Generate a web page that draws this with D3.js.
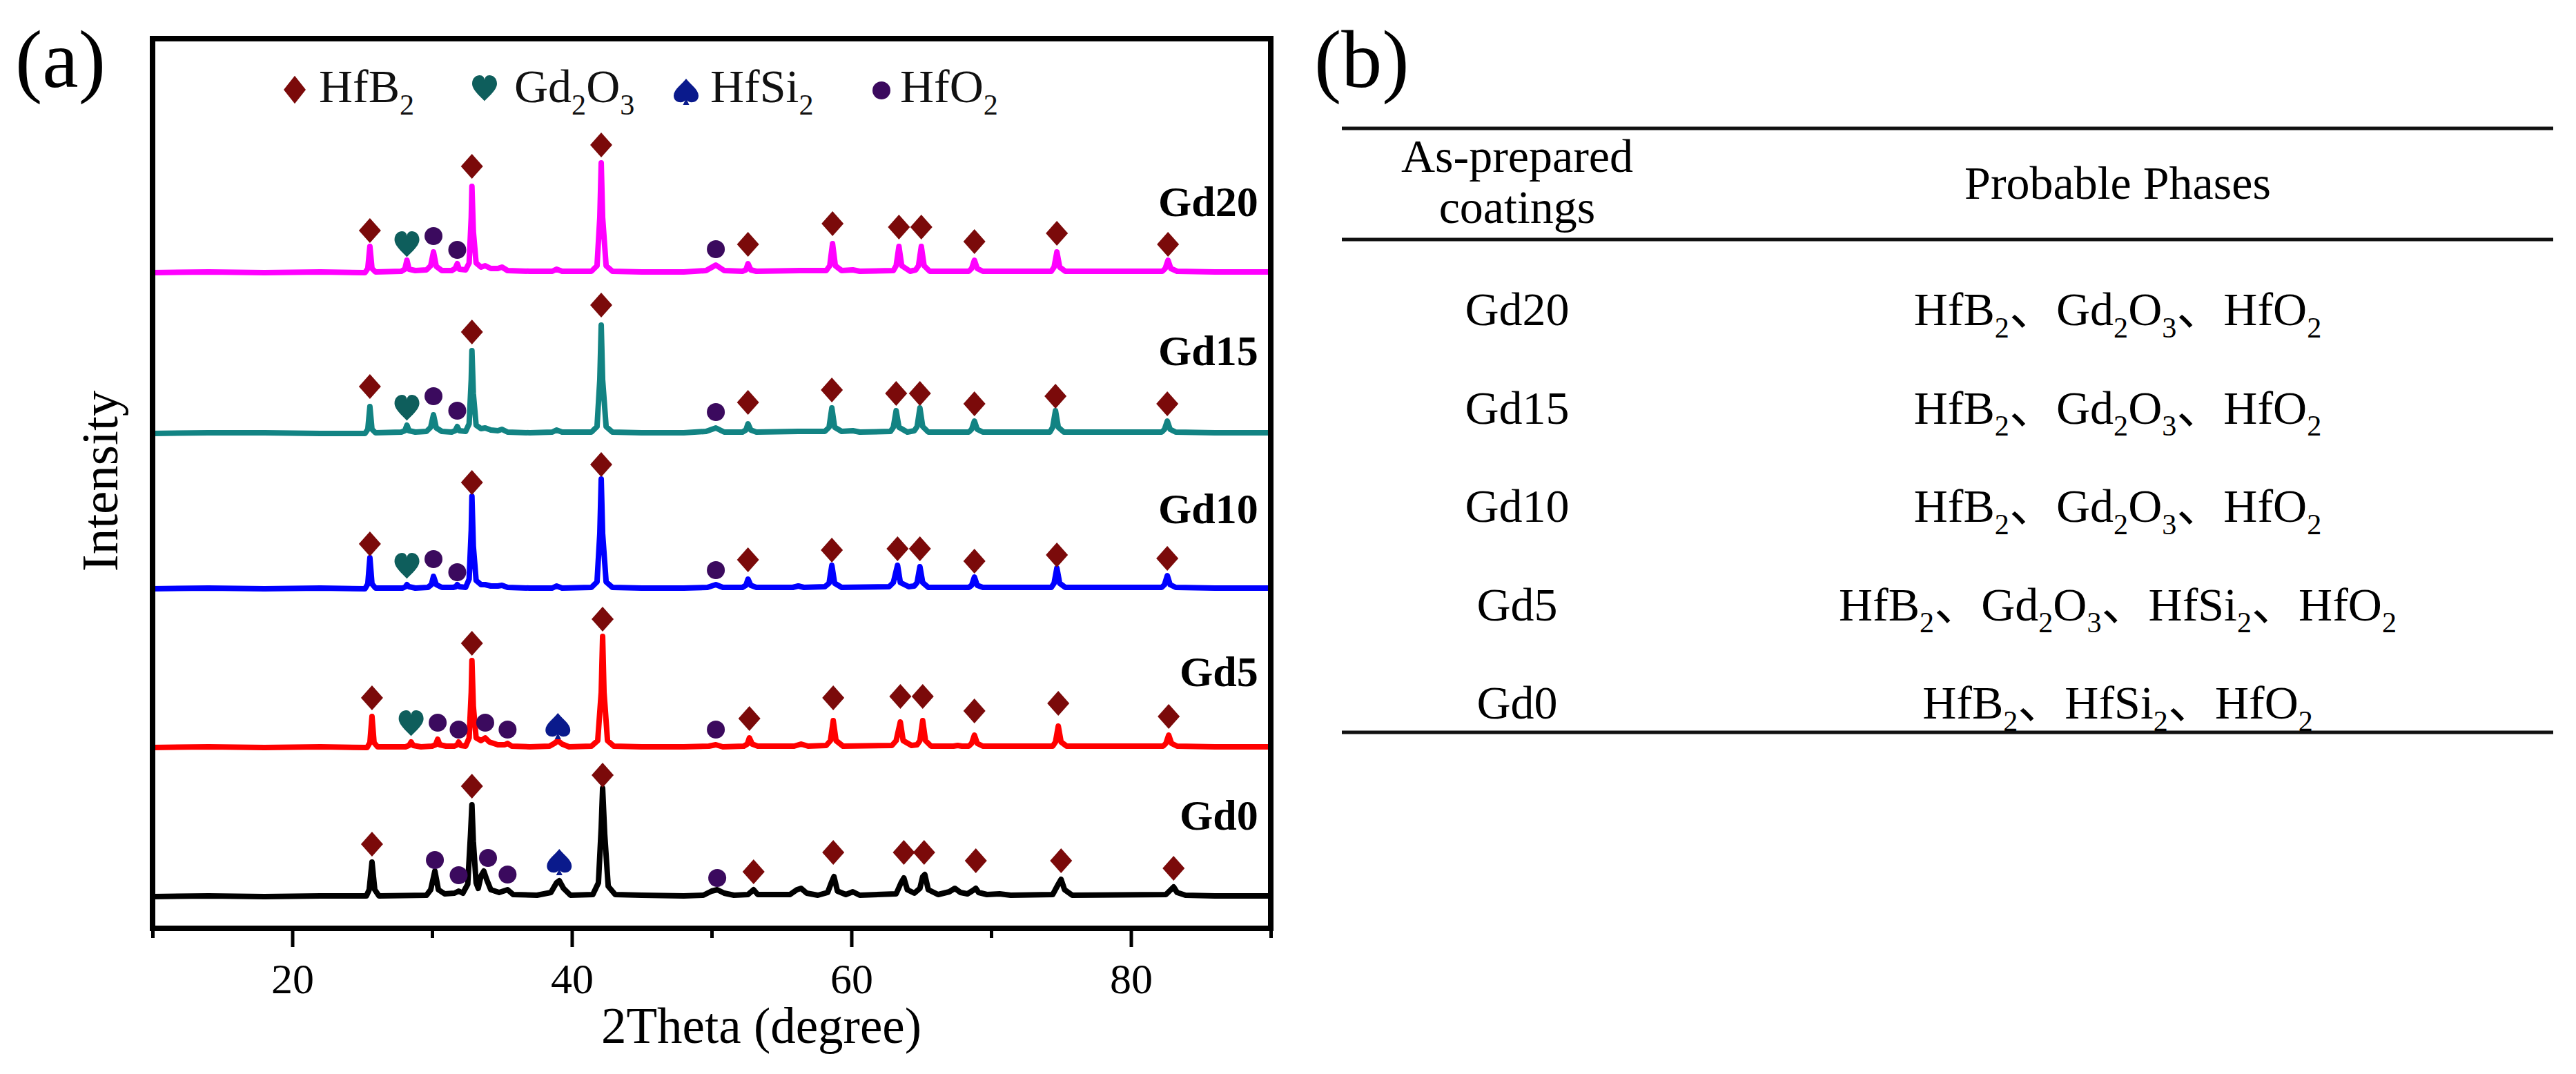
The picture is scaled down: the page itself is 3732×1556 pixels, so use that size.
<!DOCTYPE html>
<html>
<head>
<meta charset="utf-8">
<script src="https://cdn.jsdelivr.net/npm/d3@7"></script>
<style>
html,body{margin:0;padding:0;background:#fff;}
svg{display:block;}
</style>
</head>
<body>
<svg id="chart" width="3732" height="1556"></svg>
<script>
// ---------------- DATA ----------------
const categories = ['Gd0', 'Gd5', 'Gd10', 'Gd15', 'Gd20'];
// vertical stacking offsets of each pattern (intensity units)
const offsets = [46, 262, 492, 717, 950];
// label lift above each pattern's baseline (intensity units)
const labelLift = [97, 89, 95, 99, 82];

const xTicksMajor = [20, 40, 60, 80];
const xTicksMinor = [10, 30, 50, 70, 90];

const phases = ['HfB2', 'Gd2O3', 'HfSi2', 'HfO2'];

// XRD patterns: [2theta, relative intensity]
const gd0 = [[10,0],[14,1],[18,0],[22,1],[25.3,1],[25.5,10],[25.7,50],[25.9,10],[26.2,1],[29.6,2],[29.9,10],[30.2,37],[30.45,10],[30.9,4],[31.6,5],[31.9,8],[32.2,5],[32.55,18],[32.75,90],[32.85,133],[32.95,80],[33.15,20],[33.3,12],[33.5,30],[33.7,37],[33.9,25],[34.2,10],[34.8,6],[35.4,10],[35.8,3],[37.5,2],[38.5,6],[38.9,20],[39.1,23],[39.4,12],[39.9,2],[41.5,3],[41.9,20],[42.1,100],[42.2,157],[42.35,90],[42.6,15],[43.1,3],[45,2],[48,1],[49.4,2],[50.0,8],[50.4,10],[50.9,5],[51.6,2],[52.6,3],[53.0,10],[53.3,3],[55.6,3],[56.1,10],[56.4,12],[56.8,5],[57.6,2],[58.3,6],[58.6,22],[58.75,29],[59.0,8],[59.6,3],[60.1,7],[60.6,2],[63.2,4],[63.55,20],[63.75,27],[64.0,10],[64.5,5],[64.9,12],[65.1,29],[65.25,32],[65.5,10],[66.2,3],[67.0,7],[67.4,12],[67.8,6],[68.3,4],[68.7,9],[68.9,12],[69.1,6],[69.7,3],[70.6,4],[71.4,2],[74.4,3],[74.8,18],[75.0,25],[75.25,10],[75.8,2],[82.5,3],[82.85,10],[83.05,14],[83.3,6],[83.9,2],[86,1],[90,1]];
const gd5 = [[10,0],[14,1],[18,0],[22,1],[25.35,0],[25.55,7],[25.7,45],[25.85,7],[26.1,1],[28.1,1],[28.35,3],[28.5,8],[28.65,3],[29.2,1],[30.0,2],[30.25,4],[30.4,12],[30.55,4],[31.0,2],[31.6,2],[31.8,4],[31.9,8],[32.05,3],[32.4,2],[32.65,14],[32.8,80],[32.85,126],[32.95,60],[33.15,14],[33.5,10],[33.8,14],[34.1,8],[34.7,4],[35.2,4],[35.4,6],[35.7,2],[37,1],[38.4,2],[38.75,6],[39.0,10],[39.3,5],[39.8,1],[41.4,2],[41.85,10],[42.1,80],[42.2,161],[42.3,80],[42.55,10],[43.0,2],[45,1],[48,1],[49.8,2],[50.3,4],[50.8,1],[52.3,2],[52.55,5],[52.7,14],[52.9,5],[53.3,2],[55.9,2],[56.4,5],[56.9,2],[58.2,3],[58.5,10],[58.7,39],[58.9,10],[59.4,2],[62.9,3],[63.2,10],[63.5,37],[63.7,10],[64.3,3],[64.7,4],[64.9,10],[65.1,39],[65.3,10],[65.7,2],[67.3,2],[67.6,3],[67.9,2],[68.4,2],[68.6,6],[68.8,18],[69.0,6],[69.4,2],[74.4,2],[74.6,8],[74.8,31],[75.0,8],[75.4,2],[82.3,2],[82.5,6],[82.7,18],[82.9,6],[83.3,2],[86,1],[90,1]];
const gd10 = [[10,0],[14,1],[18,0],[22,1],[25.2,0],[25.4,7],[25.55,45],[25.7,7],[25.95,1],[27.9,1],[28.1,3],[28.2,6],[28.35,3],[28.8,1],[29.7,2],[29.95,6],[30.1,18],[30.3,6],[30.7,2],[31.5,2],[31.7,3],[31.8,6],[31.95,3],[32.4,2],[32.65,14],[32.8,85],[32.85,134],[32.95,62],[33.15,12],[33.5,6],[33.8,6],[34.2,4],[34.7,4],[35.0,5],[35.4,2],[37,1],[38.6,1],[38.9,4],[39.3,1],[41.4,2],[41.8,10],[42.0,80],[42.1,159],[42.2,80],[42.45,10],[42.9,2],[45,1],[48,1],[49.7,2],[50.3,6],[50.8,2],[52.2,2],[52.45,5],[52.6,14],[52.8,5],[53.2,2],[55.8,2],[56.2,4],[56.6,2],[58.1,3],[58.4,8],[58.6,34],[58.8,8],[59.3,2],[62.7,3],[63.0,9],[63.3,34],[63.5,9],[64.1,3],[64.5,4],[64.7,9],[64.9,32],[65.1,9],[65.5,2],[68.4,2],[68.6,5],[68.8,17],[69.0,5],[69.4,2],[74.3,2],[74.5,8],[74.7,30],[74.9,8],[75.3,2],[82.2,2],[82.4,6],[82.6,19],[82.8,6],[83.2,2],[86,1],[90,1]];
const gd15 = [[10,0],[14,1],[18,1],[22,0],[25.2,0],[25.4,6],[25.55,39],[25.7,6],[25.95,1],[27.8,2],[28.05,4],[28.2,12],[28.35,4],[28.8,2],[29.6,3],[29.9,9],[30.1,27],[30.3,8],[30.7,3],[31.4,2],[31.65,4],[31.8,10],[31.95,4],[32.4,3],[32.65,14],[32.8,78],[32.85,120],[32.95,58],[33.15,12],[33.5,7],[33.8,8],[34.2,5],[34.7,4],[35.0,6],[35.4,2],[37,1],[38.6,2],[38.9,5],[39.3,2],[41.4,2],[41.8,10],[42.0,78],[42.1,157],[42.2,78],[42.45,10],[42.9,2],[45,1],[48,1],[49.6,3],[50.3,8],[50.9,2],[52.2,2],[52.45,5],[52.6,14],[52.8,5],[53.2,2],[56.2,3],[58.1,3],[58.4,9],[58.6,37],[58.8,9],[59.3,3],[60.1,4],[60.6,2],[62.8,3],[63.0,9],[63.2,33],[63.4,9],[64.0,2],[64.5,4],[64.7,10],[64.9,37],[65.1,10],[65.5,2],[68.4,2],[68.6,6],[68.8,18],[69.0,6],[69.4,2],[74.2,2],[74.4,9],[74.6,33],[74.8,9],[75.2,2],[82.2,2],[82.4,6],[82.6,18],[82.8,6],[83.2,2],[86,1],[90,1]];
const gd20 = [[10,0],[14,1],[18,0],[22,1],[25.2,0],[25.4,6],[25.55,38],[25.7,6],[25.95,1],[27.8,2],[28.05,5],[28.2,18],[28.35,5],[28.8,3],[29.6,4],[29.9,10],[30.1,30],[30.3,9],[30.7,3],[31.4,3],[31.65,6],[31.8,13],[31.95,5],[32.4,4],[32.65,14],[32.8,80],[32.85,125],[32.95,60],[33.15,14],[33.5,8],[33.8,10],[34.2,6],[34.7,6],[35.0,8],[35.4,3],[37,2],[38.6,2],[38.9,5],[39.3,2],[41.4,2],[41.8,10],[42.0,80],[42.1,159],[42.2,80],[42.45,10],[42.9,2],[45,1],[48,1],[49.6,3],[50.3,11],[50.9,3],[52.2,2],[52.45,4],[52.6,13],[52.8,4],[53.2,2],[56.3,3],[58.2,3],[58.45,10],[58.65,42],[58.85,10],[59.3,3],[60.1,4],[60.6,2],[63.0,3],[63.2,10],[63.4,38],[63.6,10],[64.2,2],[64.6,4],[64.8,10],[65.0,38],[65.2,10],[65.6,2],[68.4,2],[68.6,6],[68.8,18],[69.0,6],[69.4,2],[74.3,2],[74.5,8],[74.7,30],[74.9,8],[75.3,2],[82.25,2],[82.45,6],[82.65,18],[82.85,6],[83.3,2],[86,1],[90,1]];
const patterns = [gd0, gd5, gd10, gd15, gd20];

// phase markers: [2theta, phase, marker height above baseline]
const mk0 = [[25.7,'HfB2',76],[30.2,'HfO2',53],[31.9,'HfO2',31],[32.85,'HfB2',160],[34.0,'HfO2',56],[35.4,'HfO2',32],[39.1,'HfSi2',50],[42.2,'HfB2',176],[50.4,'HfO2',27],[53.0,'HfB2',36],[58.7,'HfB2',64],[63.75,'HfB2',64],[65.2,'HfB2',64],[68.9,'HfB2',52],[75.0,'HfB2',52],[83.05,'HfB2',41]];
const mk5 = [[25.7,'HfB2',72],[28.5,'Gd2O3',35],[30.4,'HfO2',36],[31.9,'HfO2',26],[32.85,'HfB2',151],[33.8,'HfO2',36],[35.4,'HfO2',26],[39.0,'HfSi2',31],[42.2,'HfB2',186],[50.3,'HfO2',26],[52.7,'HfB2',42],[58.7,'HfB2',72],[63.5,'HfB2',74],[65.1,'HfB2',74],[68.8,'HfB2',53],[74.8,'HfB2',64],[82.7,'HfB2',45]];
const mk10 = [[25.55,'HfB2',65],[28.2,'Gd2O3',33],[30.1,'HfO2',43],[31.8,'HfO2',24],[32.85,'HfB2',154],[42.1,'HfB2',180],[50.3,'HfO2',27],[52.6,'HfB2',42],[58.6,'HfB2',56],[63.3,'HfB2',58],[64.9,'HfB2',58],[68.8,'HfB2',40],[74.7,'HfB2',49],[82.6,'HfB2',44]];
const mk15 = [[25.55,'HfB2',68],[28.2,'Gd2O3',37],[30.1,'HfO2',54],[31.8,'HfO2',33],[32.85,'HfB2',147],[42.1,'HfB2',186],[50.3,'HfO2',31],[52.6,'HfB2',45],[58.6,'HfB2',63],[63.2,'HfB2',58],[64.9,'HfB2',58],[68.8,'HfB2',43],[74.6,'HfB2',54],[82.6,'HfB2',43]];
const mk20 = [[25.55,'HfB2',61],[28.2,'Gd2O3',41],[30.1,'HfO2',53],[31.8,'HfO2',33],[32.85,'HfB2',154],[42.1,'HfB2',185],[50.3,'HfO2',34],[52.6,'HfB2',41],[58.65,'HfB2',71],[63.4,'HfB2',66],[65.0,'HfB2',66],[68.8,'HfB2',45],[74.7,'HfB2',57],[82.65,'HfB2',41]];
const markers = [mk0, mk5, mk10, mk15, mk20];

// table (b)
const tableHeader = ['As-prepared', 'coatings', 'Probable Phases'];
const tableSamples = ['Gd20', 'Gd15', 'Gd10', 'Gd5', 'Gd0'];
const tablePhases = [
  ['HfB2', 'Gd2O3', 'HfO2'],
  ['HfB2', 'Gd2O3', 'HfO2'],
  ['HfB2', 'Gd2O3', 'HfO2'],
  ['HfB2', 'Gd2O3', 'HfSi2', 'HfO2'],
  ['HfB2', 'HfSi2', 'HfO2']
];

// ---------------- STYLE ----------------
const lineColors = ['#000000', '#FF0000', '#0000FF', '#128383', '#FF00FF'];
const markerColors = {HfB2: '#7B0A0A', Gd2O3: '#0E5E5C', HfSi2: '#0A1A8C', HfO2: '#3B0A5E'};
const SERIF = '"Liberation Serif","Times New Roman",serif';
const SEP_FONT = '"Noto Sans CJK SC","Liberation Serif",serif';

const svg = d3.select('#chart');
svg.append('rect').attr('width', 3732).attr('height', 1556).attr('fill', '#fff');

const x = d3.scaleLinear().domain([10, 90]).range([221, 1841]);
const y = d3.scaleLinear().domain([0, 1289]).range([1345, 56]);

// marker shapes
function markerPath(type) {
  if (type === 'HfB2') return 'M0,-18 L16,0 L0,18 L-16,0 Z';
  if (type === 'HfO2') return d3.symbol(d3.symbolCircle, Math.PI * 13 * 13)();
  if (type === 'Gd2O3') {
    const sx = 18, sy = 19.5;
    return `M0,${0.95*sy} C${-0.2*sx},${0.7*sy} ${-1*sx},${0.15*sy} ${-1*sx},${-0.35*sy} C${-1*sx},${-0.78*sy} ${-0.65*sx},${-0.97*sy} ${-0.4*sx},${-0.97*sy} C${-0.15*sx},${-0.97*sy} 0,${-0.8*sy} 0,${-0.6*sy} C0,${-0.8*sy} ${0.15*sx},${-0.97*sy} ${0.4*sx},${-0.97*sy} C${0.65*sx},${-0.97*sy} ${1*sx},${-0.78*sy} ${1*sx},${-0.35*sy} C${1*sx},${0.15*sy} ${0.2*sx},${0.7*sy} 0,${0.95*sy} Z`;
  }
  const sx = 18, sy = 19;
  return `M0,${-1*sy} C${-0.3*sx},${-0.6*sy} ${-1*sx},${-0.2*sy} ${-1*sx},${0.3*sy} C${-1*sx},${0.65*sy} ${-0.7*sx},${0.8*sy} ${-0.45*sx},${0.8*sy} C${-0.25*sx},${0.8*sy} ${-0.1*sx},${0.7*sy} ${-0.05*sx},${0.6*sy} L${-0.25*sx},${1*sy} L${0.25*sx},${1*sy} L${0.05*sx},${0.6*sy} C${0.1*sx},${0.7*sy} ${0.25*sx},${0.8*sy} ${0.45*sx},${0.8*sy} C${0.7*sx},${0.8*sy} ${1*sx},${0.65*sy} ${1*sx},${0.3*sy} C${1*sx},${-0.2*sy} ${0.3*sx},${-0.6*sy} 0,${-1*sy} Z`;
}

// formula text with subscripts
function writeFormulas(textSel, list, fs) {
  const subSize = fs * 0.62, shift = fs * 0.26;
  let lowered = false;
  list.forEach((f, k) => {
    if (k > 0) {
      const t = textSel.append('tspan').attr('font-family', SEP_FONT).text('、');
      if (lowered) { t.attr('dy', -shift); lowered = false; }
    }
    (f.match(/[A-Za-z]+|\d+/g) || []).forEach(p => {
      const t = textSel.append('tspan').text(p);
      if (/\d/.test(p)) {
        t.attr('font-size', subSize);
        if (!lowered) { t.attr('dy', shift); lowered = true; }
      } else if (lowered) {
        t.attr('dy', -shift); lowered = false;
      }
    });
  });
}

// ---------------- PANEL (a) ----------------
const gA = svg.append('g');

// patterns
const line = d3.line().x(d => x(d[0]));
patterns.forEach((pts, i) => {
  gA.append('path')
    .attr('d', line.y(d => y(d[1] + offsets[i]))(pts))
    .attr('fill', 'none')
    .attr('stroke', lineColors[i])
    .attr('stroke-width', 8)
    .attr('stroke-linejoin', 'round');
});

// phase markers
markers.forEach((list, i) => {
  gA.selectAll(null).data(list).join('path')
    .attr('d', d => markerPath(d[1]))
    .attr('transform', d => `translate(${x(d[0])},${y(d[2] + offsets[i])})`)
    .attr('fill', d => markerColors[d[1]]);
});

// sample labels
categories.forEach((c, i) => {
  gA.append('text')
    .attr('x', x(89) + 2)
    .attr('y', y(offsets[i] + labelLift[i]))
    .attr('text-anchor', 'end')
    .attr('font-family', SERIF).attr('font-weight', 'bold')
    .attr('font-size', 62).attr('fill', '#000')
    .text(c);
});

// frame
gA.append('rect')
  .attr('x', x(10)).attr('y', y(1289))
  .attr('width', x(90) - x(10)).attr('height', y(0) - y(1289))
  .attr('fill', 'none').attr('stroke', '#000').attr('stroke-width', 8);

// x axis
const axMajor = gA.append('g').attr('transform', `translate(0,${y(0)})`)
  .call(d3.axisBottom(x).tickValues(xTicksMajor).tickSize(27).tickFormat(d3.format('d')));
axMajor.select('.domain').remove();
axMajor.selectAll('line').attr('stroke', '#000').attr('stroke-width', 5);
axMajor.selectAll('text').attr('y', 94).attr('dy', 0)
  .attr('font-family', SERIF).attr('font-size', 62).attr('fill', '#000');
const axMinor = gA.append('g').attr('transform', `translate(0,${y(0)})`)
  .call(d3.axisBottom(x).tickValues(xTicksMinor).tickSize(14).tickFormat(''));
axMinor.select('.domain').remove();
axMinor.selectAll('line').attr('stroke', '#000').attr('stroke-width', 5);

// axis titles
gA.append('text').attr('x', 1103).attr('y', 1511).attr('text-anchor', 'middle')
  .attr('font-family', SERIF).attr('font-size', 73).attr('fill', '#000')
  .text('2Theta (degree)');
gA.append('text').attr('transform', 'translate(170,697) rotate(-90)').attr('text-anchor', 'middle')
  .attr('font-family', SERIF).attr('font-size', 75).attr('fill', '#000')
  .text('Intensity');

// legend
const legendX = [427, 702, 994, 1277];
const legendTextX = [462, 745, 1029, 1304];
const legendMarkY = [130, 128, 133, 131];
phases.forEach((p, k) => {
  gA.append('path').attr('d', markerPath(p))
    .attr('transform', `translate(${legendX[k]},${legendMarkY[k]})` + (p === 'HfB2' ? ' scale(1,1.12)' : ''))
    .attr('fill', markerColors[p]);
  const t = gA.append('text').attr('x', legendTextX[k]).attr('y', 148)
    .attr('font-family', SERIF).attr('font-size', 68).attr('fill', '#111');
  writeFormulas(t, [p], 68);
});

// panel labels
svg.append('text').attr('x', 22).attr('y', 126).attr('font-family', SERIF)
  .attr('font-size', 118).attr('fill', '#000').text('(a)');
svg.append('text').attr('x', 1904).attr('y', 126).attr('font-family', SERIF)
  .attr('font-size', 118).attr('fill', '#000').text('(b)');

// ---------------- PANEL (b) TABLE ----------------
const gB = svg.append('g').attr('font-family', SERIF).attr('fill', '#000');
const tblX0 = 1944, tblX1 = 3699, col1 = 2198, col2 = 3068;
[186, 347, 1061].forEach(yy => {
  gB.append('line').attr('x1', tblX0).attr('x2', tblX1).attr('y1', yy).attr('y2', yy)
    .attr('stroke', '#111').attr('stroke-width', 5);
});
gB.append('text').attr('x', col1).attr('y', 249).attr('text-anchor', 'middle').attr('font-size', 68).text(tableHeader[0]);
gB.append('text').attr('x', col1).attr('y', 323).attr('text-anchor', 'middle').attr('font-size', 68).text(tableHeader[1]);
gB.append('text').attr('x', col2).attr('y', 288).attr('text-anchor', 'middle').attr('font-size', 68).text(tableHeader[2]);

const rowY = d3.scalePoint().domain(tableSamples).range([471, 1041]);
tableSamples.forEach((s, r) => {
  gB.append('text').attr('x', col1).attr('y', rowY(s)).attr('text-anchor', 'middle')
    .attr('font-size', 68).text(s);
  const t = gB.append('text').attr('x', col2).attr('y', rowY(s)).attr('text-anchor', 'middle')
    .attr('font-size', 68);
  writeFormulas(t, tablePhases[r], 68);
});
</script>
</body>
</html>
